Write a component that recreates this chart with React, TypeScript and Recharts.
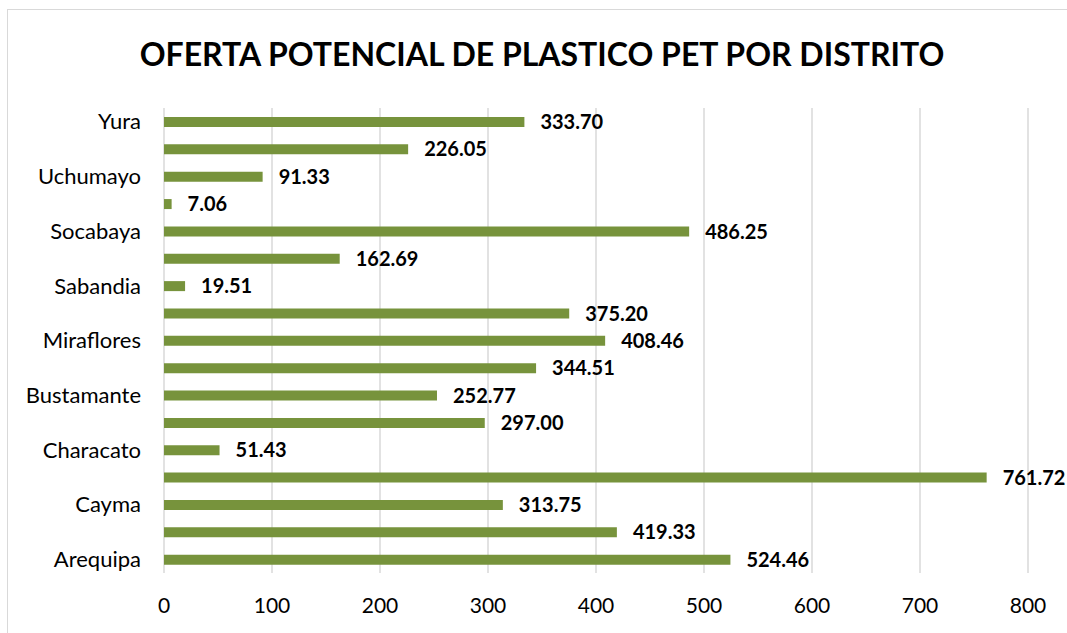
import { BarChart, Bar, XAxis, YAxis, CartesianGrid, LabelList } from 'recharts';

// top to bottom, as drawn
const districts = [
  'Yura', 'Yanahuara', 'Uchumayo', 'Tiabaya', 'Socabaya', 'Sachaca', 'Sabandia',
  'Paucarpata', 'Miraflores', 'Mariano Melgar', 'Bustamante', 'Hunter', 'Characato',
  'Cerro Colorado', 'Cayma', 'Alto Selva Alegre', 'Arequipa',
];
const oferta = [
  333.7, 226.05, 91.33, 7.06, 486.25, 162.69, 19.51,
  375.2, 408.46, 344.51, 252.77, 297.0, 51.43,
  761.72, 313.75, 419.33, 524.46,
];
const xTicks = [0, 100, 200, 300, 400, 500, 600, 700, 800];

const data = districts.map((name, i) => ({ name, value: oferta[i] }));

const FONT = 'Lato, "Open Sans", sans-serif';
const GREEN = '#77933C';

export default function App() {
  return (
    <div style={{ position: 'fixed', left: 0, top: 0, width: 1067, height: 633, overflow: 'hidden', background: '#fff' }}>
      <div
        style={{
          position: 'absolute', left: 7, top: 9, width: 1070, height: 640,
          border: '1.5px solid #d9d9d9', background: '#fff', fontFamily: FONT,
        }}
      >
        <div
          style={{
            position: 'absolute', left: 0, width: 1068, top: 24, textAlign: 'center',
            fontSize: 32, fontWeight: 700, color: '#000', lineHeight: '40px',
          }}
        >
          OFERTA POTENCIAL DE PLASTICO PET POR DISTRITO
        </div>
        <BarChart
          width={1068}
          height={620}
          data={data}
          layout="vertical"
          margin={{ top: 98, right: 48, bottom: 27, left: 0 }}
          style={{ position: 'absolute', left: 0, top: 0 }}
        >
          <CartesianGrid horizontal={false} stroke="#d9d9d9" strokeWidth={1.5} />
          <XAxis
            type="number" domain={[0, 800]} ticks={xTicks}
            axisLine={false} tickLine={false} tickMargin={19} height={30}
            tick={{ fill: '#000', fontSize: 21, fontFamily: FONT }}
          />
          <YAxis
            type="category" dataKey="name" width={156} interval={1}
            axisLine={false} tickLine={false} tickMargin={17}
            tick={{ fill: '#000', fontSize: 22, fontFamily: FONT }}
          />
          <Bar dataKey="value" fill={GREEN} barSize={10} isAnimationActive={false}>
            <LabelList
              dataKey="value" position="right" offset={16}
              formatter={(v: number) => v.toFixed(2)}
              style={{ fill: '#000', fontSize: 20, fontWeight: 700, fontFamily: FONT }}
            />
          </Bar>
        </BarChart>
      </div>
    </div>
  );
}
